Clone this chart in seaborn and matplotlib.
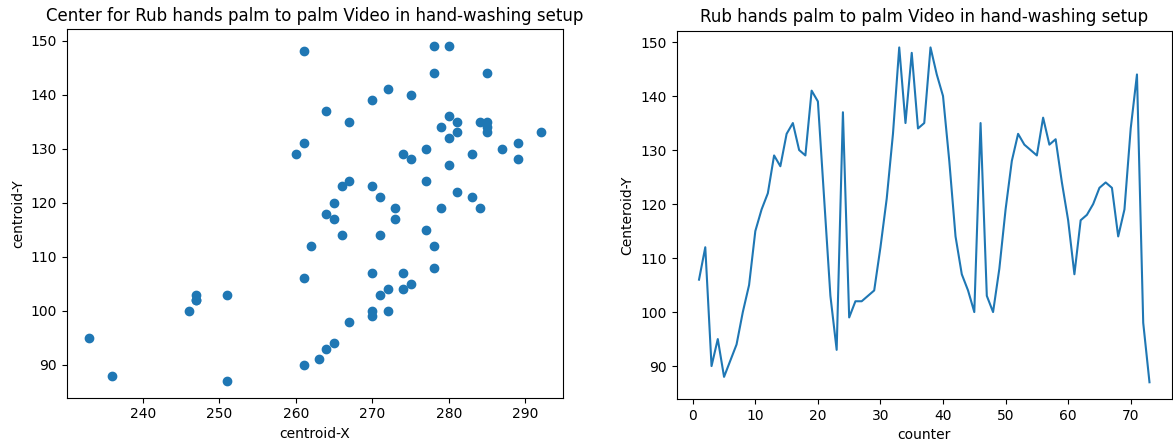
import matplotlib
matplotlib.use("Agg")
import matplotlib.pyplot as plt
import seaborn as sns
import pandas as pd

counter = list(range(1, 74))
centroid_y = [106, 112, 90, 95, 88, 91, 94, 100, 105, 115,
              119, 122, 129, 127, 133, 135, 130, 129, 141, 139,
              121, 103, 93, 137, 99, 102, 102, 103, 104, 112,
              121, 133, 149, 135, 148, 134, 135, 149, 144, 140,
              128, 114, 107, 104, 100, 135, 103, 100, 108, 119,
              128, 133, 131, 130, 129, 136, 131, 132, 124, 117,
              107, 117, 118, 120, 123, 124, 123, 114, 119, 134,
              144, 98, 87]
centroid_x = [261, 262, 261, 233, 236, 263, 265, 246, 275, 277,
              273, 281, 260, 280, 285, 267, 287, 283, 272, 270,
              271, 247, 264, 264, 270, 247, 247, 251, 274, 278,
              283, 281, 278, 281, 261, 285, 284, 280, 278, 275,
              275, 266, 270, 272, 270, 285, 271, 272, 278, 279,
              289, 292, 261, 277, 274, 280, 289, 280, 277, 265,
              274, 273, 264, 265, 266, 267, 270, 271, 284, 279,
              285, 267, 251]

df = pd.DataFrame({"counter": counter, "x": centroid_x, "y": centroid_y})

W, H = 1173, 445
fig = plt.figure(figsize=(W / 100, H / 100), dpi=100)
ax1 = fig.add_axes([66.7 / W, (H - 397.7) / H, (563.3 - 66.7) / W, (397.7 - 29.3) / H])
ax2 = fig.add_axes([676.5 / W, (H - 399) / H, (1172 - 676.5) / W, (399 - 30.7) / H])

sns.scatterplot(data=df, x="x", y="y", ax=ax1, s=36, color="#1f77b4",
                edgecolor="#1f77b4", linewidth=1.0)
ax1.set_title("Center for Rub hands palm to palm Video in hand-washing setup", fontsize=12)
ax1.set_xlabel("centroid-X")
ax1.set_ylabel("centroid-Y")

sns.lineplot(data=df, x="counter", y="y", ax=ax2, color="#1f77b4", linewidth=1.5)
ax2.set_title("Rub hands palm to palm Video in hand-washing setup", fontsize=12)
ax2.set_xlabel("counter")
ax2.set_ylabel("Centeroid-Y")

fig.savefig("out.png", dpi=100)
